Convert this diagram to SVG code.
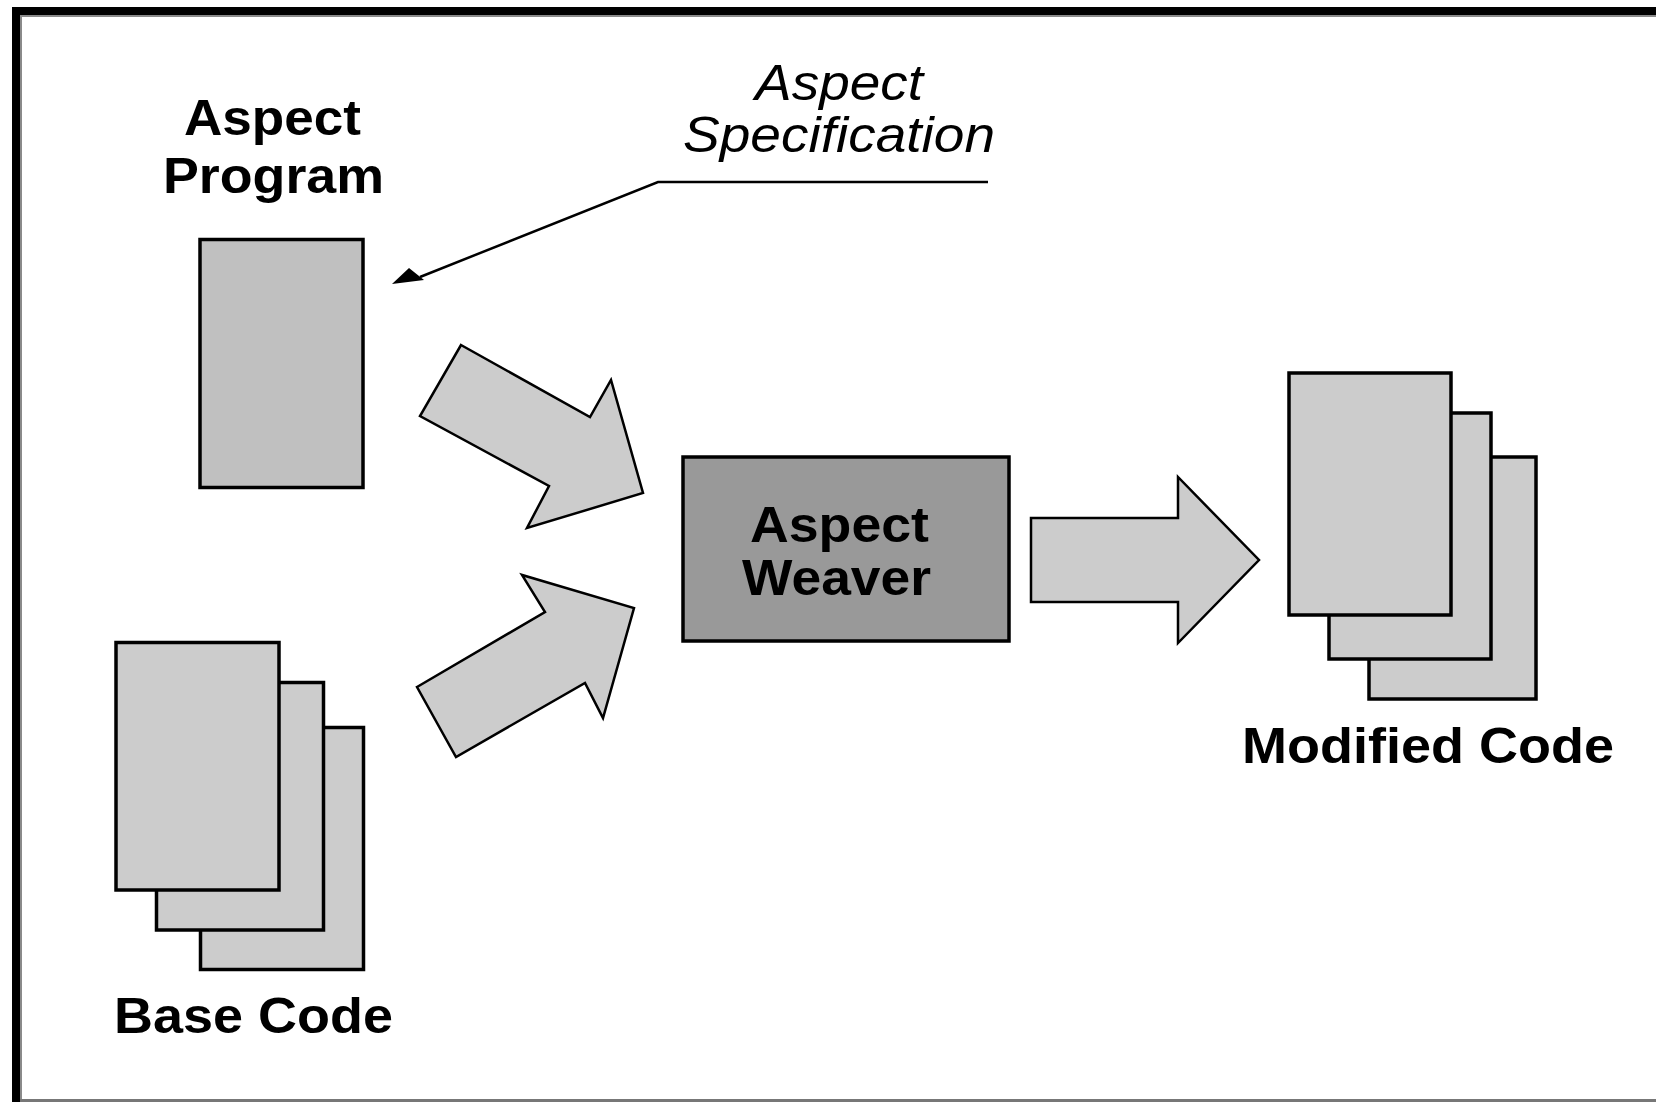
<svg xmlns="http://www.w3.org/2000/svg" width="1656" height="1102" viewBox="0 0 1656 1102">
<style>
.bg{fill:#ffffff}
.page{fill:#cccccc;stroke:#000;stroke-width:3.5}
.prog{fill:#c0c0c0;stroke:#000;stroke-width:3.5}
.weaver{fill:#999999;stroke:#000;stroke-width:3.5}
.blk{fill:#cccccc;stroke:#000;stroke-width:2.5;stroke-linejoin:miter}
.lbl{font-family:"Liberation Sans",Arial,sans-serif;font-weight:bold;font-size:50px;fill:#000}
.spec{font-family:"Liberation Sans",Arial,sans-serif;font-style:italic;font-size:50px;fill:#000}
.call{fill:none;stroke:#000;stroke-width:2.5}
</style>
<rect class="bg" x="0" y="0" width="1656" height="1102"/>
<g id="frame">
<rect x="12" y="7" width="1644" height="8" fill="#000"/>
<rect x="12" y="7" width="8" height="1095" fill="#000"/>
<rect x="20" y="15" width="1636" height="2" fill="#8a8a8a"/>
<rect x="20" y="15" width="2" height="1087" fill="#8a8a8a"/>
<rect x="20" y="1099" width="1636" height="3" fill="#777"/>
</g>
<g id="connectors">
<g id="spec-callout">
<polyline class="call" points="988,182 658,182 420,277"/>
<polygon points="392,284 409,268 424,280" fill="#000"/>
<text class="spec" x="755" y="100" textLength="168" lengthAdjust="spacingAndGlyphs">Aspect</text>
<text class="spec" x="683" y="152" textLength="312" lengthAdjust="spacingAndGlyphs">Specification</text>
</g>
<polygon id="arrow-program" class="blk" points="461,345 590,417 611,380 643,493 527,528 549,486 420,416"/>
<polygon id="arrow-base" class="blk" points="417,687 545,612 522,575 634,608 603,718 585,683 456,757"/>
<polygon id="arrow-out" class="blk" points="1031,518 1178,518 1178,477 1259,560 1178,643 1178,602 1031,602"/>
</g>
<g id="aspect-program">
<text class="lbl" x="184" y="135" textLength="177" lengthAdjust="spacingAndGlyphs">Aspect</text>
<text class="lbl" x="163" y="193" textLength="221" lengthAdjust="spacingAndGlyphs">Program</text>
<rect class="prog" x="200" y="239.5" width="163" height="248"/>
</g>
<g id="base-code">
<rect class="page" x="200.5" y="727.5" width="163" height="242"/>
<rect class="page" x="156.5" y="682.5" width="167" height="247.5"/>
<rect class="page" x="116" y="642.5" width="163" height="247.5"/>
<text class="lbl" x="114" y="1033" textLength="279" lengthAdjust="spacingAndGlyphs">Base Code</text>
</g>
<g id="aspect-weaver">
<rect class="weaver" x="683" y="457" width="326" height="184"/>
<text class="lbl" x="750" y="542" textLength="179" lengthAdjust="spacingAndGlyphs">Aspect</text>
<text class="lbl" x="742" y="595" textLength="189" lengthAdjust="spacingAndGlyphs">Weaver</text>
</g>
<g id="modified-code">
<rect class="page" x="1369" y="457" width="167" height="242"/>
<rect class="page" x="1329" y="413" width="162" height="246"/>
<rect class="page" x="1289" y="373" width="162" height="242"/>
<text class="lbl" x="1242" y="763" textLength="372" lengthAdjust="spacingAndGlyphs">Modified Code</text>
</g>
</svg>
